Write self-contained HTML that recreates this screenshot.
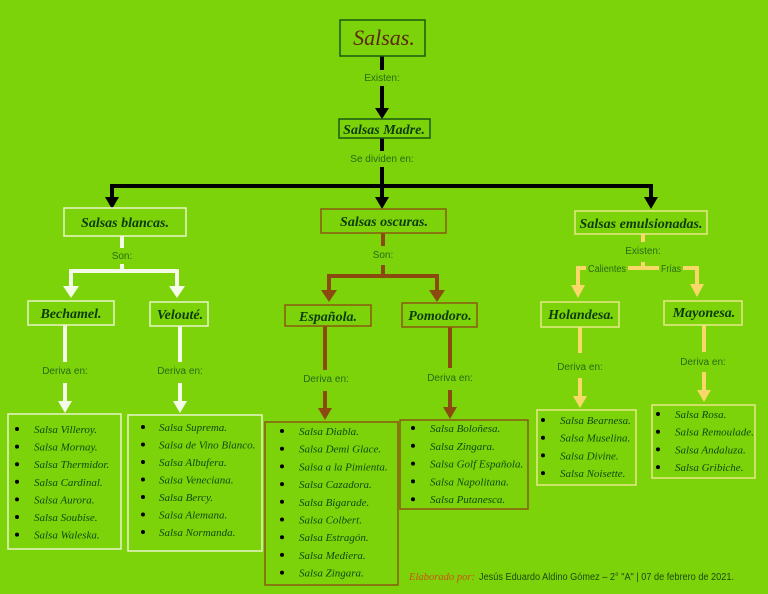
<!DOCTYPE html>
<html><head><meta charset="utf-8"><style>
html,body{margin:0;padding:0;background:#7cd30a;}
svg{display:block}
.h{font-family:"Liberation Serif",serif;font-style:italic;font-weight:bold;fill:#0d3a0a}
.l{font-family:"Liberation Serif",serif;font-style:italic;font-size:11px;fill:#0f4a0a}
.c{font-family:"Liberation Sans",sans-serif;font-size:10px;fill:#2a6a10}
</style></head><body>
<svg width="768" height="594" viewBox="0 0 768 594" xmlns="http://www.w3.org/2000/svg">
<rect width="768" height="594" fill="#7cd30a"/>
<g stroke="#000" stroke-width="4" fill="none">
<line x1="382" y1="56" x2="382" y2="70"/>
<line x1="382" y1="86" x2="382" y2="110"/>
<line x1="382" y1="138" x2="382" y2="151"/>
<line x1="382" y1="167" x2="382" y2="199"/>
<polyline points="112,200 112,186 651,186 651,200"/>
</g>
<g fill="#000">
<polygon points="375,108 389,108 382,119"/>
<polygon points="105,197 119,197 112,209"/>
<polygon points="375,197 389,197 382,209"/>
<polygon points="644,197 658,197 651,209"/>
</g>
<rect x="340" y="20" width="85" height="36" fill="none" stroke="#1a5a10" stroke-width="1.5"/>
<text x="384" y="45" text-anchor="middle" class="h" style="font-size:22px;fill:#5a2a0a;font-weight:normal">Salsas.</text>
<text x="382" y="81" text-anchor="middle" class="c">Existen:</text>
<rect x="339" y="119" width="91" height="19" fill="none" stroke="#1a5a10" stroke-width="1.5"/>
<text x="384" y="134" text-anchor="middle" class="h" style="font-size:14px">Salsas Madre.</text>
<text x="382" y="162" text-anchor="middle" class="c">Se dividen en:</text>

<g stroke="#f4fbe8" stroke-width="4" fill="none">
<line x1="122" y1="236" x2="122" y2="248"/>
<line x1="122" y1="264" x2="122" y2="271"/>
<polyline points="71,289 71,271 177,271 177,289"/>
<line x1="65" y1="325" x2="65" y2="362"/>
<line x1="65" y1="383" x2="65" y2="403"/>
<line x1="180" y1="326" x2="180" y2="362"/>
<line x1="180" y1="383" x2="180" y2="403"/>
</g>
<g fill="#f4fbe8">
<polygon points="63,286 79,286 71,298"/>
<polygon points="169,286 185,286 177,298"/>
<polygon points="58,401 72,401 65,413"/>
<polygon points="173,401 187,401 180,413"/>
</g>
<g fill="none" stroke="#e6f5c8" stroke-width="1.5">
<rect x="64" y="208" width="122" height="28"/>
<rect x="28" y="301" width="86" height="24"/>
<rect x="150" y="302" width="58" height="24"/>
<rect x="8" y="414" width="113" height="135"/>
<rect x="128" y="415" width="134" height="136"/>
</g>
<text x="125" y="227" text-anchor="middle" class="h" style="font-size:14px">Salsas blancas.</text>
<text x="122" y="259" text-anchor="middle" class="c">Son:</text>
<text x="71" y="318" text-anchor="middle" class="h" style="font-size:14px">Bechamel.</text>
<text x="180" y="319" text-anchor="middle" class="h" style="font-size:14px">Velouté.</text>
<text x="65" y="374" text-anchor="middle" class="c">Deriva en:</text>
<text x="180" y="374" text-anchor="middle" class="c">Deriva en:</text>

<g stroke="#8a4a10" stroke-width="4" fill="none">
<line x1="383" y1="233" x2="383" y2="246"/>
<line x1="383" y1="265" x2="383" y2="276"/>
<polyline points="329,292 329,276 437,276 437,292"/>
<line x1="325" y1="326" x2="325" y2="370"/>
<line x1="325" y1="391" x2="325" y2="410"/>
<line x1="450" y1="327" x2="450" y2="368"/>
<line x1="450" y1="390" x2="450" y2="409"/>
</g>
<g fill="#8a4a10">
<polygon points="321,290 337,290 329,302"/>
<polygon points="429,290 445,290 437,302"/>
<polygon points="318,408 332,408 325,420"/>
<polygon points="443,407 457,407 450,419"/>
</g>
<g fill="none" stroke="#8a5a10" stroke-width="1.5">
<rect x="321" y="209" width="125" height="24"/>
<rect x="285" y="305" width="86" height="21"/>
<rect x="402" y="303" width="75" height="24"/>
<rect x="265" y="422" width="133" height="163"/>
<rect x="400" y="420" width="128" height="89"/>
</g>
<text x="384" y="226" text-anchor="middle" class="h" style="font-size:14px">Salsas oscuras.</text>
<text x="383" y="258" text-anchor="middle" class="c">Son:</text>
<text x="328" y="321" text-anchor="middle" class="h" style="font-size:14px">Española.</text>
<text x="440" y="320" text-anchor="middle" class="h" style="font-size:14px">Pomodoro.</text>
<text x="326" y="382" text-anchor="middle" class="c">Deriva en:</text>
<text x="450" y="381" text-anchor="middle" class="c">Deriva en:</text>

<g stroke="#f8d868" stroke-width="4" fill="none">
<line x1="643" y1="234" x2="643" y2="242"/>
<polyline points="586,268 578,268 578,287"/>
<line x1="628" y1="268" x2="659" y2="268"/>
<line x1="643" y1="262" x2="643" y2="268"/>
<polyline points="683,268 697,268 697,286"/>
<line x1="580" y1="327" x2="580" y2="353"/>
<line x1="580" y1="378" x2="580" y2="398"/>
<line x1="704" y1="325" x2="704" y2="352"/>
<line x1="704" y1="372" x2="704" y2="392"/>
</g>
<g fill="#f8d868">
<polygon points="571,285 585,285 578,298"/>
<polygon points="690,284 704,284 697,297"/>
<polygon points="573,396 587,396 580,408"/>
<polygon points="697,390 711,390 704,402"/>
</g>
<g fill="none" stroke="#e8e888" stroke-width="1.5">
<rect x="575" y="211" width="132" height="23"/>
<rect x="541" y="302" width="78" height="25"/>
<rect x="664" y="301" width="78" height="24"/>
<rect x="537" y="410" width="99" height="75"/>
<rect x="652" y="405" width="103" height="73"/>
</g>
<text x="641" y="228" text-anchor="middle" class="h" style="font-size:14px">Salsas emulsionadas.</text>
<text x="643" y="254" text-anchor="middle" class="c">Existen:</text>
<text x="588" y="272" class="c" textLength="38" lengthAdjust="spacingAndGlyphs">Calientes</text>
<text x="661" y="272" class="c" textLength="20" lengthAdjust="spacingAndGlyphs">Frías</text>
<text x="581" y="319" text-anchor="middle" class="h" style="font-size:14px">Holandesa.</text>
<text x="704" y="317" text-anchor="middle" class="h" style="font-size:14px">Mayonesa.</text>
<text x="580" y="370" text-anchor="middle" class="c">Deriva en:</text>
<text x="703" y="365" text-anchor="middle" class="c">Deriva en:</text>

<g fill="#000">
<circle cx="17" cy="429" r="2"/><circle cx="17" cy="446.6" r="2"/><circle cx="17" cy="464.2" r="2"/><circle cx="17" cy="481.8" r="2"/><circle cx="17" cy="499.4" r="2"/><circle cx="17" cy="517" r="2"/><circle cx="17" cy="534.6" r="2"/>
<circle cx="143" cy="427" r="2"/><circle cx="143" cy="444.5" r="2"/><circle cx="143" cy="462" r="2"/><circle cx="143" cy="479.5" r="2"/><circle cx="143" cy="497" r="2"/><circle cx="143" cy="514.5" r="2"/><circle cx="143" cy="532" r="2"/>
<circle cx="282" cy="431" r="2"/><circle cx="282" cy="448.7" r="2"/><circle cx="282" cy="466.4" r="2"/><circle cx="282" cy="484.1" r="2"/><circle cx="282" cy="501.8" r="2"/><circle cx="282" cy="519.5" r="2"/><circle cx="282" cy="537.2" r="2"/><circle cx="282" cy="554.9" r="2"/><circle cx="282" cy="572.6" r="2"/>
<circle cx="413" cy="428" r="2"/><circle cx="413" cy="445.8" r="2"/><circle cx="413" cy="463.6" r="2"/><circle cx="413" cy="481.4" r="2"/><circle cx="413" cy="499.2" r="2"/>
<circle cx="543" cy="420" r="2"/><circle cx="543" cy="437.7" r="2"/><circle cx="543" cy="455.4" r="2"/><circle cx="543" cy="473.1" r="2"/>
<circle cx="658" cy="414" r="2"/><circle cx="658" cy="431.7" r="2"/><circle cx="658" cy="449.4" r="2"/><circle cx="658" cy="467.1" r="2"/>
</g>
<g class="l">
<text x="34" y="433">Salsa Villeroy.</text><text x="34" y="450.6">Salsa Mornay.</text><text x="34" y="468.2">Salsa Thermidor.</text><text x="34" y="485.8">Salsa Cardinal.</text><text x="34" y="503.4">Salsa Aurora.</text><text x="34" y="521">Salsa Soubise.</text><text x="34" y="538.6">Salsa Waleska.</text>
<text x="159" y="431">Salsa Suprema.</text><text x="159" y="448.5">Salsa de Vino Blanco.</text><text x="159" y="466">Salsa Albufera.</text><text x="159" y="483.5">Salsa Veneciana.</text><text x="159" y="501">Salsa Bercy.</text><text x="159" y="518.5">Salsa Alemana.</text><text x="159" y="536">Salsa Normanda.</text>
<text x="299" y="435">Salsa Diabla.</text><text x="299" y="452.7">Salsa Demi Glace.</text><text x="299" y="470.4">Salsa a la Pimienta.</text><text x="299" y="488.1">Salsa Cazadora.</text><text x="299" y="505.8">Salsa Bigarade.</text><text x="299" y="523.5">Salsa Colbert.</text><text x="299" y="541.2">Salsa Estragón.</text><text x="299" y="558.9">Salsa Mediera.</text><text x="299" y="576.6">Salsa Zingara.</text>
<text x="430" y="432">Salsa Boloñesa.</text><text x="430" y="449.8">Salsa Zingara.</text><text x="430" y="467.6">Salsa Golf Española.</text><text x="430" y="485.4">Salsa Napolitana.</text><text x="430" y="503.2">Salsa Putanesca.</text>
<text x="560" y="424">Salsa Bearnesa.</text><text x="560" y="441.7">Salsa Muselina.</text><text x="560" y="459.4">Salsa Divine.</text><text x="560" y="477.1">Salsa Noisette.</text>
<text x="675" y="418">Salsa Rosa.</text><text x="675" y="435.7">Salsa Remoulade.</text><text x="675" y="453.4">Salsa Andaluza.</text><text x="675" y="471.1">Salsa Gribiche.</text>
</g>
<text x="409" y="580" style="font-family:'Liberation Serif',serif;font-style:italic;font-size:11px;fill:#d05010" textLength="66" lengthAdjust="spacingAndGlyphs">Elaborado por:</text>
<text x="479" y="580" class="c" style="fill:#1a4a0a" textLength="255" lengthAdjust="spacingAndGlyphs">Jesús Eduardo Aldino Gómez – 2° "A" | 07 de febrero de 2021.</text>
</svg>
</body></html>
